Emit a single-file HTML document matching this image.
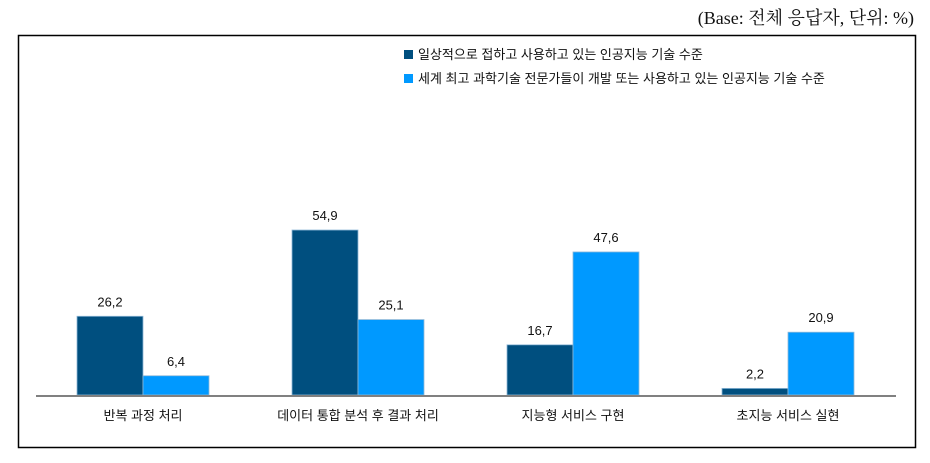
<!DOCTYPE html>
<html><head><meta charset="utf-8"><style>
body{margin:0;background:#fff;width:930px;height:458px;overflow:hidden;font-family:"Liberation Sans","Noto Sans CJK KR",sans-serif}
</style></head><body>
<svg width="930" height="458" xmlns="http://www.w3.org/2000/svg">
<text x="914" y="24" text-anchor="end" font-family="'Liberation Serif','Noto Serif CJK SC',serif" font-size="18" fill="#111">(Base: 전체 응답자, 단위: %)</text>
<rect x="18.5" y="35.5" width="897" height="412" fill="none" stroke="#000" stroke-width="1.5"/>
<g font-size="13" fill="#111">
<rect x="404" y="50" width="9" height="9" fill="#004f7f"/>
<text x="418" y="59">일상적으로 접하고 사용하고 있는 인공지능 기술 수준</text>
<rect x="404" y="74" width="9" height="9" fill="#0099ff"/>
<text x="418" y="83">세계 최고 과학기술 전문가들이 개발 또는 사용하고 있는 인공지능 기술 수준</text>
</g>
<g id="bars"></g>
<line x1="36" y1="396" x2="896" y2="396" stroke="#808080" stroke-width="2"/>
</svg>
<script>
const categories=["반복 과정 처리","데이터 통합 분석 후 결과 처리","지능형 서비스 구현","초지능 서비스 실현"];
const dailyValues=[26.2,54.9,16.7,2.2];
const expertValues=[6.4,25.1,47.6,20.9];
const g=document.getElementById('bars');
const NS="http://www.w3.org/2000/svg";
const base=395, scale=3.005, x0=143, step=215, bw=66;
const y=v=>base-v*scale;
function mk(tag,attrs){const e=document.createElementNS(NS,tag);for(const k in attrs)e.setAttribute(k,attrs[k]);g.appendChild(e);return e;}
categories.forEach((c,i)=>{
  const cx=x0+i*step;
  [[dailyValues[i],cx-bw,"#004f7f"],[expertValues[i],cx,"#0099ff"]].forEach(([v,x,col],j)=>{
    const r=mk('rect',{x:x,y:y(v),width:bw,height:base-y(v),fill:col,stroke:"#8fb8d8","stroke-width":0.8});
    
    
    const t=mk('text',{x:x+bw/2,y:y(v)-10,"text-anchor":"middle","font-size":13,fill:"#111"});
    t.textContent=v.toFixed(1).replace('.',',');
    
    
  });
  const l=mk('text',{x:cx,y:420,"text-anchor":"middle","font-size":13,fill:"#111"});
  l.textContent=c;
  
  
});
</script>
</body></html>
